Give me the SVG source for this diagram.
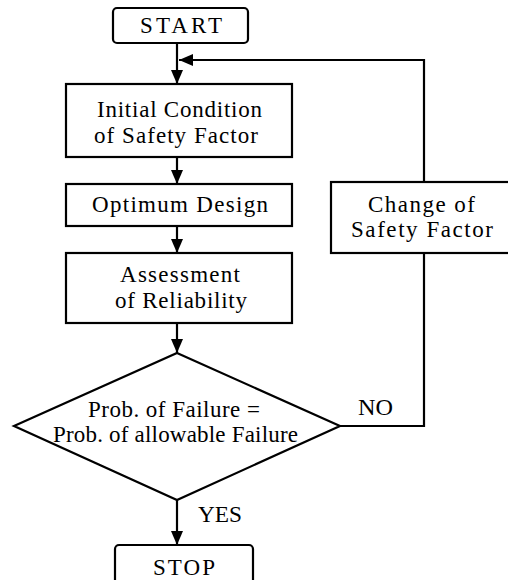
<svg xmlns="http://www.w3.org/2000/svg" width="508" height="580" viewBox="0 0 508 580">
<style>
.b{fill:#fff;stroke:#000;stroke-width:2.2}
.c{fill:none;stroke:#000;stroke-width:2.2}
.t{font-family:'Liberation Serif','DejaVu Serif',serif;font-size:23px;fill:#000}
</style>
<defs>
<marker id="ah" markerWidth="14" markerHeight="12" refX="14" refY="6" orient="auto" markerUnits="userSpaceOnUse">
<path d="M0,0 L14,6 L0,12 Z" fill="#000"/>
</marker>
</defs>
<rect width="508" height="580" fill="#fff"/>
<g id="connectors">
<line class="c" x1="177" y1="43" x2="177" y2="84" marker-end="url(#ah)"/>
<line class="c" x1="177" y1="157" x2="177" y2="184" marker-end="url(#ah)"/>
<line class="c" x1="177" y1="226" x2="177" y2="253" marker-end="url(#ah)"/>
<line class="c" x1="177" y1="323" x2="177" y2="353" marker-end="url(#ah)"/>
<line class="c" x1="177" y1="500" x2="177" y2="545" marker-end="url(#ah)"/>
<polyline class="c" points="340,426 424,426 424,253"/>
<polyline class="c" points="424,182 424,60 179,60" marker-end="url(#ah)"/>
<text class="t" x="358" y="415" textLength="35" lengthAdjust="spacingAndGlyphs">NO</text>
<text class="t" x="198" y="522" textLength="44" lengthAdjust="spacingAndGlyphs">YES</text>
</g>
<g id="start">
<rect class="b" x="113" y="8" width="135" height="35" rx="4"/>
<text class="t" x="140" y="33" textLength="82" lengthAdjust="spacing">START</text>
</g>
<g id="initial">
<rect class="b" x="66" y="84" width="226" height="73"/>
<text class="t" x="97" y="117" textLength="165" lengthAdjust="spacing">Initial Condition</text>
<text class="t" x="94" y="143" textLength="164" lengthAdjust="spacing">of Safety Factor</text>
</g>
<g id="optimum">
<rect class="b" x="66" y="184" width="226" height="42"/>
<text class="t" x="92" y="212" textLength="176" lengthAdjust="spacing">Optimum Design</text>
</g>
<g id="assessment">
<rect class="b" x="66" y="253" width="226" height="70"/>
<text class="t" x="120" y="282" textLength="120" lengthAdjust="spacing">Assessment</text>
<text class="t" x="115" y="308" textLength="132" lengthAdjust="spacing">of Reliability</text>
</g>
<g id="decision">
<polygon class="b" points="177,353 340,426 177,500 14,426"/>
<text class="t" x="88" y="417" textLength="172" lengthAdjust="spacing">Prob. of Failure =</text>
<text class="t" x="53" y="442" textLength="245" lengthAdjust="spacing">Prob. of allowable Failure</text>
</g>
<g id="change">
<rect class="b" x="331" y="182" width="186" height="71"/>
<text class="t" x="368" y="212" textLength="107" lengthAdjust="spacing">Change of</text>
<text class="t" x="351" y="237" textLength="142" lengthAdjust="spacing">Safety Factor</text>
</g>
<g id="stop">
<rect class="b" x="115" y="545" width="138" height="45" rx="4"/>
<text class="t" x="153" y="575" textLength="62" lengthAdjust="spacing">STOP</text>
</g>
</svg>
